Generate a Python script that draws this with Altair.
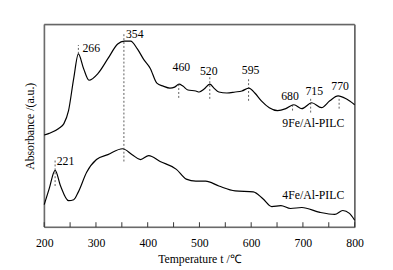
import altair as alt
import pandas as pd

# 9Fe/Al-PILC curve (temperature, absorbance a.u.)
t9 = [200, 209.5, 228, 238, 247, 257, 266, 276, 286.5, 304, 323, 342, 354.6, 367, 380, 392.5,
      405, 417.7, 430, 443, 452, 460.6, 468, 477.7, 493, 499.7, 509, 520, 528, 537.5, 553, 569,
      582, 595.6, 607, 619.7, 635, 651, 667, 682.7, 698, 717, 736, 752, 768, 783.6, 800]
a9 = [94, 95.7, 100.7, 105.7, 119, 152, 177, 162, 150, 157, 172, 187, 190, 190, 182, 171,
      162, 147, 144, 142, 143, 146, 144, 140, 139, 138, 141, 146, 142, 138, 137, 138,
      139, 142, 137, 129, 122, 119, 121, 125, 121, 127, 122, 129, 134, 131, 125]

# 4Fe/Al-PILC curve
t4 = [200, 209.5, 221, 231.6, 247, 257, 266, 282, 301, 323, 351.4, 370, 386, 402, 424, 455.5,
      474.5, 493, 512, 537.5, 569, 604, 622.7, 639.8, 657.5, 676, 698, 733, 761.6, 777, 790, 800]
a4 = [23, 39, 58, 42, 27, 28, 36, 56, 69, 74, 80, 74, 69, 73, 67, 59,
      49, 47, 47, 42, 37, 36, 29, 21, 22, 19, 20, 15, 13, 17, 14, 7]

# peak annotations
peak_T = [221, 266, 354, 460, 520, 595, 680, 715, 770]
dash_top = [69, 186, 199, 146, 154, 152, 126, 131, 132]
dash_bot = [42, 177, 67, 132, 131, 129, 119, 117, 121]
label_T = [241, 291, 375, 465, 518, 599, 675, 722, 772]
label_v = [67, 183, 197, 163, 159, 160, 134, 139, 144]
labels = ["221", "266", "354", "460", "520", "595", "680", "715", "770"]

# series names
names = ["9Fe/Al-PILC", "4Fe/Al-PILC"]
name_T = [720, 720]
name_v = [106, 33]

x_ticks = [200, 250, 300, 350, 400, 450, 500, 550, 600, 650, 700, 750, 800]
x_domain = [200, 800]
y_domain = [0, 207]

FONT = "Liberation Serif"
FRAME_C = "#666666"

curves = pd.DataFrame({
    "T": t9 + t4,
    "A": a9 + a4,
    "s": ["9Fe"] * len(t9) + ["4Fe"] * len(t4),
})
ann = pd.DataFrame({"T": peak_T, "top": dash_top, "bot": dash_bot,
                    "lT": label_T, "lv": label_v, "lab": labels})
nm = pd.DataFrame({"T": name_T, "v": name_v, "name": names})
edges_v = pd.DataFrame({"x": [x_domain[0], x_domain[1]],
                        "ya": [y_domain[0]] * 2, "yb": [y_domain[1]] * 2})
edges_h = pd.DataFrame({"y": [y_domain[0], y_domain[1]],
                        "xa": [x_domain[0]] * 2, "xb": [x_domain[1]] * 2})
ticks = pd.DataFrame({"T": x_ticks, "y0": [y_domain[0]] * len(x_ticks)})

xs = alt.Scale(domain=x_domain, nice=False)
ys = alt.Scale(domain=y_domain, nice=False)

xaxis = alt.Axis(values=x_ticks, labelExpr="datum.value % 100 == 0 ? datum.label : ''",
                 ticks=False, domain=False, grid=False, labelPadding=11,
                 labelFlush=False, labelOverlap=False,
                 titlePadding=5, labelFont=FONT, titleFont=FONT, labelFontSize=12,
                 titleFontSize=12, titleFontWeight="normal", labelColor="black",
                 titleColor="black")
yaxis = alt.Axis(ticks=False, labels=False, domain=False, grid=False, titlePadding=8,
                 titleFont=FONT, titleFontSize=12, titleFontWeight="normal", titleColor="black")

vert = alt.Chart(edges_v).mark_rule(color=FRAME_C, strokeWidth=1.3).encode(
    x=alt.X("x:Q", scale=xs, axis=xaxis, title="Temperature    t /℃"),
    y=alt.Y("ya:Q", scale=ys, axis=yaxis, title="Absorbance /(a.u.)"),
    y2="yb:Q")
horiz = alt.Chart(edges_h).mark_rule(color=FRAME_C, strokeWidth=1.3).encode(
    y=alt.Y("y:Q", scale=ys), x=alt.X("xa:Q", scale=xs), x2="xb:Q")

tickmarks = alt.Chart(ticks).mark_rule(color="#333333", strokeWidth=1).encode(
    x=alt.X("T:Q", scale=xs), y=alt.Y("y0:Q", scale=ys), y2=alt.value(202))

lines = alt.Chart(curves).mark_line(color="black", strokeWidth=1.2, interpolate="monotone").encode(
    x=alt.X("T:Q", scale=xs),
    y=alt.Y("A:Q", scale=ys),
    detail="s:N",
)

dashes = alt.Chart(ann).mark_rule(color="#333333", strokeWidth=0.8, strokeDash=[2, 2]).encode(
    x=alt.X("T:Q", scale=xs), y=alt.Y("bot:Q", scale=ys), y2="top:Q")

texts = alt.Chart(ann).mark_text(font=FONT, fontSize=12, color="black", baseline="middle",
                                 align="center").encode(
    x=alt.X("lT:Q", scale=xs), y=alt.Y("lv:Q", scale=ys), text="lab:N")

ntexts = alt.Chart(nm).mark_text(font=FONT, fontSize=12, color="black", baseline="middle",
                                 align="center").encode(
    x=alt.X("T:Q", scale=xs), y=alt.Y("v:Q", scale=ys), text="name:N")

chart = alt.layer(vert, horiz, tickmarks, lines, dashes, texts, ntexts).properties(
    width=317, height=207,
    autosize=alt.AutoSizeParams(type="none"),
    padding={"left": 37, "top": 14, "right": 31, "bottom": 40},
).configure_view(stroke=FRAME_C, strokeWidth=1)

chart.save("out.html", embed_options={"renderer": "svg", "actions": False})
